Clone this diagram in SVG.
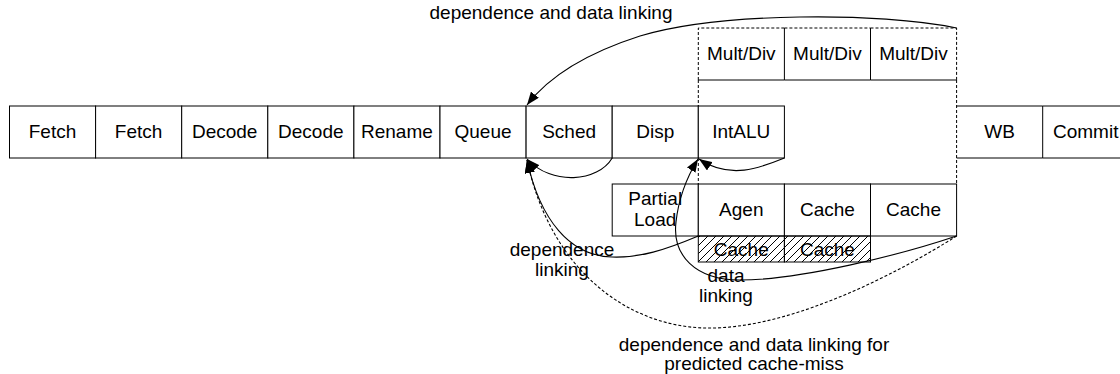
<svg xmlns="http://www.w3.org/2000/svg" width="1120" height="374" viewBox="0 0 1120 374">
  <style>
    .box { fill: #fff; stroke: #000; stroke-width: 1; }
    .edge { fill: none; stroke: #000; stroke-width: 1; }
    .dash { fill: none; stroke: #000; stroke-width: 1; stroke-dasharray: 3 2; }
    .lbl { font-family: "Liberation Sans", Arial, sans-serif; font-size: 19px; fill: #000; text-anchor: middle; }
    .link { fill: none; stroke: #000; stroke-width: 1.1; }
    .link-dash { fill: none; stroke: #000; stroke-width: 1.1; stroke-dasharray: 3 2; }
  </style>
  <defs>
    <marker id="arrow" markerUnits="userSpaceOnUse" markerWidth="14" markerHeight="10" refX="13" refY="5" orient="auto">
      <path d="M0,0 L13,5 L0,10 z" fill="#000"/>
    </marker>
    <pattern id="hatch" patternUnits="userSpaceOnUse" width="8" height="8">
      <path d="M0,8 L8,0 M-2,2 L2,-2 M6,10 L10,6" stroke="#000" stroke-width="1"/>
    </pattern>
  </defs>

  <rect width="1120" height="374" fill="#fff"/>

  <!-- main pipeline -->
  <g id="fetch1"><rect class="box" x="9.5" y="106" width="86.1" height="52"/><text class="lbl" x="52.5" y="138">Fetch</text></g>
  <g id="fetch2"><rect class="box" x="95.6" y="106" width="86.1" height="52"/><text class="lbl" x="138.6" y="138">Fetch</text></g>
  <g id="decode1"><rect class="box" x="181.7" y="106" width="86.1" height="52"/><text class="lbl" x="224.7" y="138">Decode</text></g>
  <g id="decode2"><rect class="box" x="267.8" y="106" width="86.1" height="52"/><text class="lbl" x="310.8" y="138">Decode</text></g>
  <g id="rename"><rect class="box" x="353.9" y="106" width="86.1" height="52"/><text class="lbl" x="396.9" y="138">Rename</text></g>
  <g id="queue"><rect class="box" x="440" y="106" width="86.1" height="52"/><text class="lbl" x="483" y="138">Queue</text></g>
  <g id="sched"><rect class="box" x="526.1" y="106" width="86.1" height="52"/><text class="lbl" x="569.1" y="138">Sched</text></g>
  <g id="disp"><rect class="box" x="612.2" y="106" width="86.1" height="52"/><text class="lbl" x="655.2" y="138">Disp</text></g>
  <g id="intalu"><rect class="box" x="698.3" y="106" width="86.1" height="52"/><text class="lbl" x="741.3" y="138">IntALU</text></g>

  <!-- write-back / commit (left edge is the dashed lane boundary) -->
  <g id="wb">
    <path class="edge" d="M956.6,106 H1042.7 V158 H956.6"/>
    <text class="lbl" x="999.6" y="138">WB</text>
  </g>
  <g id="commit">
    <path class="edge" d="M1042.7,106 H1128.8 V158 H1042.7"/>
    <text class="lbl" x="1085.7" y="138">Commit</text>
  </g>

  <!-- multiply / divide lane -->
  <g id="multdiv1">
    <path class="dash" d="M698.3,80 V28 H784.4"/>
    <path class="edge" d="M698.3,80 H784.4"/>
    <text class="lbl" x="741.3" y="60">Mult/Div</text>
  </g>
  <g id="multdiv2">
    <path class="dash" d="M784.4,28 H870.5"/>
    <path class="edge" d="M784.4,28 V80 H870.5"/>
    <text class="lbl" x="827.4" y="60">Mult/Div</text>
  </g>
  <g id="multdiv3">
    <path class="dash" d="M870.5,28 H956.6 V80"/>
    <path class="edge" d="M870.5,28 V80 H956.6"/>
    <text class="lbl" x="913.5" y="60">Mult/Div</text>
  </g>

  <!-- load lane -->
  <g id="partial-load">
    <rect class="box" x="612.2" y="184" width="86.1" height="52"/>
    <text class="lbl" x="655.2" y="205">Partial</text>
    <text class="lbl" x="655.2" y="226">Load</text>
  </g>
  <g id="agen"><rect class="box" x="698.3" y="184" width="86.1" height="52"/><text class="lbl" x="741.3" y="216">Agen</text></g>
  <g id="cache1"><rect class="box" x="784.4" y="184" width="86.1" height="52"/><text class="lbl" x="827.4" y="216">Cache</text></g>
  <g id="cache2"><rect class="box" x="870.5" y="184" width="86.1" height="52"/><text class="lbl" x="913.5" y="216">Cache</text></g>
  <g id="cache-hatch1">
    <rect x="698.3" y="236" width="86.1" height="26" fill="url(#hatch)" stroke="#000" stroke-width="1"/>
    <text class="lbl" x="741.3" y="256">Cache</text>
  </g>
  <g id="cache-hatch2">
    <rect x="784.4" y="236" width="86.1" height="26" fill="url(#hatch)" stroke="#000" stroke-width="1"/>
    <text class="lbl" x="827.4" y="256">Cache</text>
  </g>

  <!-- lane boundaries -->
  <g id="lanes">
    <path class="dash" d="M698.3,80 V106 M698.3,158 V184"/>
    <path class="dash" d="M956.6,80 V184"/>
  </g>

  <!-- links -->
  <g id="connectors">
    <path class="link" d="M956.6,28 C880,12 720,12 640,36 C590,52 550,75 527,105" marker-end="url(#arrow)"/>
    <path class="link" d="M612.2,158 C598,182 552,186 527,159" marker-end="url(#arrow)"/>
    <path class="link" d="M784.4,158 C760,168 730,180 699,159" marker-end="url(#arrow)"/>
    <path class="link" d="M698.3,236 C665,250 640,258 612,257 C570,256 540,220 527,160" marker-end="url(#arrow)"/>
    <path class="link" d="M956.6,236 C900,255 800,280 740,280 C695,280 672,255 676,222 C679,195 690,172 698,159" marker-end="url(#arrow)"/>
    <path class="link-dash" d="M956.6,236 C900,272 790,330 705,328 C625,326 550,268 527,160" marker-end="url(#arrow)"/>
  </g>

  <!-- link labels -->
  <g id="labels">
    <text class="lbl" x="551" y="19">dependence and data linking</text>
    <text class="lbl" x="562" y="256">dependence</text>
    <text class="lbl" x="562" y="276">linking</text>
    <text class="lbl" x="726" y="282">data</text>
    <text class="lbl" x="726" y="302">linking</text>
    <text class="lbl" x="754" y="351">dependence and data linking for</text>
    <text class="lbl" x="754" y="370">predicted cache-miss</text>
  </g>
</svg>
